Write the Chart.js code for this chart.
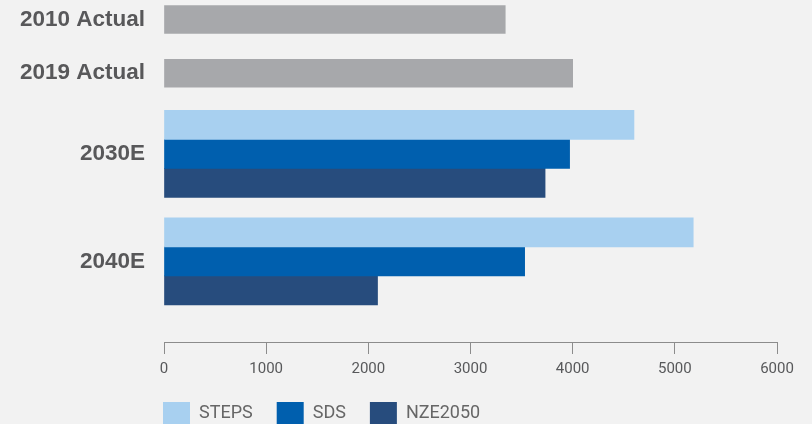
<!DOCTYPE html>
<html>
<head>
<meta charset="utf-8">
<script src="https://cdn.jsdelivr.net/npm/chart.js@4/dist/chart.umd.min.js"></script>
<style>
  html, body { margin: 0; padding: 0; background: #f2f2f2; }
  #wrap { width: 812px; height: 424px; }
</style>
</head>
<body>
<div id="wrap"><canvas id="chartArea" width="812" height="424"></canvas></div>
<script>
// rows of the chart, top to bottom
var categories = ['2010 Actual', '2019 Actual', '2030E', '2040E'];
var actualValues = [3340, 4000, null, null];
var stepsValues = [null, null, 4600, 5180];
var sdsValues = [null, null, 3970, 3530];
var nzeValues = [null, null, 3730, 2090];
var seriesNames = ['STEPS', 'SDS', 'NZE2050'];
var xTickValues = [0, 1000, 2000, 3000, 4000, 5000, 6000];

// rows sit on an uneven grid, so spread them over blank category slots
var rowSlots = [0, 2, 5, 9];
var slotCount = 13;

function spread(values) {
    var out = [];
    for (var i = 0; i < slotCount; i++) out.push(null);
    rowSlots.forEach(function(slot, i) { out[slot] = values[i]; });
    return out;
}

var slotLabels = spread(categories).map(function(l) { return l === null ? '' : l; });

// legend starts under the plot instead of at the canvas edge
var legendUnderPlot = {
    id: 'legendUnderPlot',
    afterLayout: function(chart) {
        var legend = chart.legend;
        legend.left = chart.chartArea.left - legend.options.labels.padding - 1;
    }
};

var config = {
    type: 'bar',
    data: {
        labels: slotLabels,
        datasets: [{
            label: 'Actual',
            data: spread(actualValues),
            backgroundColor: '#a7a8ab',
            barThickness: 28
        }, {
            label: seriesNames[0],
            data: spread(stepsValues),
            backgroundColor: '#a8d0f0',
            barThickness: 29
        }, {
            label: seriesNames[1],
            data: spread(sdsValues),
            backgroundColor: '#005fae',
            barThickness: 29
        }, {
            label: seriesNames[2],
            data: spread(nzeValues),
            backgroundColor: '#274c7d',
            barThickness: 29
        }]
    },
    plugins: [legendUnderPlot],
    options: {
        indexAxis: 'y',
        responsive: false,
        animation: false,
        skipNull: true,
        datasets: { bar: { clip: false } },
        layout: {
            padding: { left: 20, right: 35, top: 19.5, bottom: -10 }
        },
        plugins: {
            legend: {
                position: 'bottom',
                align: 'start',
                labels: {
                    boxWidth: 27,
                    boxHeight: 22,
                    padding: 24,
                    color: '#666666',
                    font: { family: 'Roboto', size: 18 },
                    filter: function(item) { return item.datasetIndex > 0; }
                }
            },
            tooltip: { enabled: false }
        },
        scales: {
            x: {
                min: 0,
                max: 6000,
                afterBuildTicks: function(scale) {
                    scale.ticks = xTickValues.map(function(v) { return { value: v }; });
                },
                afterFit: function(scale) { scale.height = 36; },
                grid: {
                    drawOnChartArea: false,
                    drawTicks: true,
                    tickLength: 12,
                    color: '#8c8c8c'
                },
                border: { display: true, color: '#8c8c8c', width: 1 },
                ticks: {
                    padding: 6,
                    color: '#58595b',
                    font: { family: 'Roboto', size: 15 },
                    callback: function(value) { return String(value); }
                }
            },
            y: {
                offset: false,
                afterFit: function(scale) {
                    scale.width = 144;
                    scale.paddingTop = 0;
                    scale.paddingBottom = 0;
                },
                grid: { display: false, drawTicks: false },
                border: { display: false },
                ticks: {
                    autoSkip: false,
                    padding: 19,
                    color: '#58585a',
                    font: { family: 'Liberation Sans', size: 22.5, weight: 'bold' }
                }
            }
        }
    }
};

var ctx = document.getElementById('chartArea').getContext('2d');
window.myBars = new Chart(ctx, config);
</script>
</body>
</html>
